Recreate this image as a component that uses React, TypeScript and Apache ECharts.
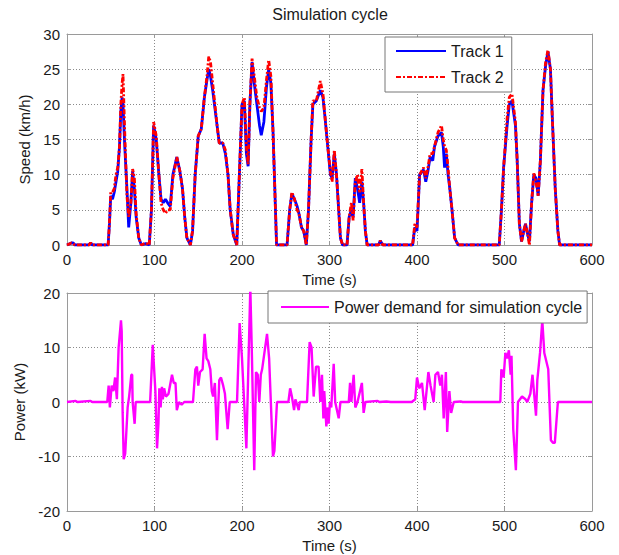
import React, { useEffect, useRef } from "react";
import * as echarts from "echarts";

const speedTime = [0, 5, 7, 9, 25, 27, 29, 47, 48.5, 50, 52, 54, 56, 58, 60, 61.5, 63, 64, 66, 68.5, 70.5, 73, 75, 77, 79, 82, 85, 90, 94, 96.5, 99, 102, 105, 107.5, 110, 112.5, 115, 118, 121, 125.5, 129, 132, 134.5, 137, 141, 143.5, 146.5, 150, 153.5, 157, 160, 162, 164, 166.5, 171.5, 174, 178, 181, 184, 186.5, 190, 194, 197, 200, 202.7, 205, 207, 209, 211.5, 214, 217, 220, 222, 225, 228, 230.5, 233, 235.5, 237.5, 239.5, 251.5, 254.5, 257, 260, 263, 265, 268, 270.5, 273.5, 276, 279, 281, 285, 289.5, 292.5, 295, 298, 301, 303, 305.5, 308, 310.5, 312.5, 315, 320, 322.5, 325, 327, 329.5, 332, 334.5, 337, 339, 341, 343, 356, 358, 361, 395, 397.5, 400, 403, 407.5, 410, 412.5, 415, 418, 420, 424, 428, 430, 431.5, 433.5, 435.5, 437.5, 440, 443, 447, 494, 496.5, 499, 503, 505.5, 508.5, 512.5, 514.5, 517, 519.5, 522, 524, 526.5, 528.5, 531, 533.5, 536, 538.5, 541, 544, 547, 549.7, 552.5, 555, 558, 561, 563, 600];

const track1Speed = [0, 0.3, 0.3, 0, 0, 0.3, 0, 0, 3, 7, 6.5, 7.5, 9, 10.5, 14, 19, 21, 20, 14, 8, 2.5, 6, 10.5, 8, 4, 1, 0, 0.2, 0, 5, 17, 15, 10, 6.5, 6, 6.5, 6, 5.5, 10, 12.5, 10.5, 8, 4, 1, 0, 2, 10, 15.5, 16.5, 21, 23.5, 25, 24, 22, 17, 14.5, 14.5, 13, 10, 5, 1.5, 0, 10, 20, 20.5, 13, 11.2, 20, 26, 23, 20, 17, 15.6, 17.5, 22.5, 25, 23, 16, 8, 0, 0, 5, 7.3, 6.5, 5.5, 4.5, 2.5, 2, 0, 5, 15, 20, 20.5, 22, 21, 18, 14, 10, 9.5, 13, 10, 5, 1, 0, 0, 4, 5, 4, 9.5, 8, 6, 9, 6, 2, 0, 0, 0.6, 0, 0, 2.5, 2, 10, 10.7, 9, 10.5, 12.5, 12, 14, 15.5, 16, 14, 11, 13, 10, 8, 5, 1, 0, 0, 5, 11, 17, 20, 20.5, 17, 12, 3, 0.5, 2, 3, 1.5, 0.5, 6, 10, 9.5, 7, 12, 22, 25.5, 27.5, 25, 17, 8, 2, 0, 0];

const track2Speed = [0, 0.3, 0.2, 0, 0, 0.3, 0, 0, 3, 7.5, 7.5, 8, 10, 11, 14, 20, 23, 24.3, 16, 7, 4, 6, 10.8, 9.5, 4.5, 1, 0, 0.3, 0, 5, 17.5, 15.5, 10, 6, 5, 4.5, 5, 5, 9.5, 12.5, 10.5, 8, 4, 1, 0, 2, 10, 15.5, 16.5, 21, 24, 26.8, 26, 23, 17, 14.5, 14.5, 13.5, 10, 5, 1.5, 0, 10, 20, 21, 14, 11.5, 20, 26.5, 24, 21, 19.5, 19, 19.5, 23.5, 26.3, 24, 16, 8, 0, 0, 5, 7.5, 6.5, 5, 4.5, 2.5, 2, 0, 5, 15, 20.5, 20.5, 23.3, 21.5, 18, 14, 10.5, 9, 13.5, 10, 5, 1, 0, 0, 4, 6, 3.5, 9, 10, 7.5, 10.8, 6, 2, 0, 0, 0.6, 0, 0, 3, 2.5, 10, 11, 9.5, 11, 13, 13, 14, 16, 17, 15, 14, 13.5, 11, 8, 5, 1, 0, 0, 5, 11, 18, 21, 21.5, 17.5, 12, 3, 0.5, 2, 3, 1.5, 0, 6, 10.2, 9, 7, 12, 22, 26, 27.7, 25, 17, 8, 2, 0, 0];

const powerTime = [0, 10, 12, 27, 29, 46, 47.6, 49, 51, 53, 55, 57, 59, 61.7, 62.5, 63.6, 64.8, 66.5, 69.3, 71, 73.5, 74.5, 75, 77.3, 78.5, 95, 98, 101, 102.9, 104.5, 105.5, 107, 108.5, 109.5, 111, 113, 116, 120, 122, 124, 125.5, 128, 131, 134, 144, 146.7, 148.5, 150, 152, 155, 157.3, 159.5, 161.5, 163.8, 165.5, 167, 169, 171.4, 174, 176, 178.5, 180.5, 183.6, 186, 194.3, 197.3, 200, 205, 209.5, 211.4, 214, 216, 218, 219.8, 221.5, 223, 228.6, 231, 235.4, 237, 240, 253, 255, 257, 259.5, 261, 263, 264.8, 266, 274.3, 277.3, 279.5, 281.9, 284.6, 287.5, 289.5, 291.4, 293, 294, 296.4, 298, 299, 300.5, 302, 304.8, 306.5, 310.5, 312.5, 322, 323.5, 325, 327.6, 329.5, 332, 337, 339, 341, 355, 357, 365, 370, 394, 398, 400, 402.5, 405.7, 408.8, 413, 415.5, 419, 421, 424, 426.6, 428.5, 430.5, 433, 434.5, 437, 439, 442, 450, 452, 495.2, 496.4, 499, 501, 503, 505, 507, 508, 510, 513, 515.4, 520, 524, 526, 529.5, 532, 536, 537.5, 540.6, 543.2, 545.5, 550, 553, 555.6, 557.5, 561, 600];

const powerDemand = [0, 0.2, 0, 0.2, 0, 0, 3, -1, 3, 2, 4.5, 0.5, 10, 15, 13, -2, -10.5, -9.5, -1, 1, 5, 5, 0, -4, 0, 0, 10.5, 2, -8.5, -4, 2.5, -1, 2.8, 0.5, 2.5, 1, 1.5, 5, 3.5, 3.5, -1.5, 0, -0.5, 0, 0, 6, 6.5, 3, 5.5, 6, 12.5, 8, 7.5, 6, 2, 1, 3.5, -7, 4, 4.5, 3, 1.5, -5, 0, 0, 14.5, 8, -8.5, 21, 8, -12.5, 5.5, 5, 0, 5, 6, 12.5, 8, -10, -9, 0, 0, 2.5, 1, -1.5, 0.5, -0.5, -1.5, 0, 0, 11, 10, 1, 6.5, 6.5, 0, 5, -3, 2, -4.5, -1, -4, 0, -1, 7, 0, -3, 0, 0, 3.5, 0, 5, -1, 0, 3.5, -2, 0, 0.2, 0, 0.1, 0, 0, 0.5, 4.5, 2.5, 3.5, -1.5, 5.5, 3, 0, 5, 5.5, 3, 5, -3, 5.5, -5.5, 2, -2, 0, 0.1, 0, 0, 6, 4.5, 9, 8, 9.5, 5, 8.5, -5, -12.5, 0, 1, 0.5, 0, 1.5, 5, -2.5, 4, 9, 15, 9, 6, -7, -7.5, -7.5, 0, 0];

const FONT = "'Liberation Sans', Arial, sans-serif";
const TXT = "#1a1a1a";
const FRAME = "#9a9a9a";

function xAxisCfg(gridIndex: number, pos: "bottom" | "top") {
  const isBottom = pos === "bottom";
  return {
    type: "value",
    gridIndex,
    position: pos,
    min: 0,
    max: 600,
    interval: 100,
    name: isBottom ? "Time (s)" : "",
    nameLocation: "middle",
    nameGap: 27,
    nameTextStyle: { color: TXT, fontSize: 15, fontFamily: FONT },
    axisLine: { show: true, onZero: false, lineStyle: { color: FRAME, width: 1 } },
    axisTick: { show: true, inside: true, length: 4, lineStyle: { color: FRAME } },
    axisLabel: { show: isBottom, color: TXT, fontSize: 15, fontFamily: FONT, margin: 7 },
    splitLine: { show: isBottom, lineStyle: { color: "#8a8a8a", type: [1, 2], width: 1 } },
  };
}

function yAxisCfg(gridIndex: number, pos: "left" | "right", min: number, max: number, interval: number, name: string, nameGap: number) {
  const isLeft = pos === "left";
  return {
    type: "value",
    gridIndex,
    position: pos,
    min,
    max,
    interval,
    name: isLeft ? name : "",
    nameLocation: "middle",
    nameGap,
    nameTextStyle: { color: TXT, fontSize: 15, fontFamily: FONT },
    axisLine: { show: true, onZero: false, lineStyle: { color: FRAME, width: 1 } },
    axisTick: { show: true, inside: true, length: 4, lineStyle: { color: FRAME } },
    axisLabel: { show: isLeft, color: TXT, fontSize: 15, fontFamily: FONT, margin: 7 },
    splitLine: { show: isLeft, lineStyle: { color: "#8a8a8a", type: [1, 2], width: 1 } },
  };
}

export default function App() {
  const ref = useRef<HTMLDivElement>(null);
  useEffect(() => {
    if (!ref.current) return;
    const chart = echarts.init(ref.current, null, { renderer: "svg" });
    const s1 = speedTime.map((t, i) => [t, track1Speed[i]]);
    const s2 = speedTime.map((t, i) => [t, track2Speed[i]]);
    const p = powerTime.map((t, i) => [t, powerDemand[i]]);
    chart.setOption({
      animation: false,
      backgroundColor: "#ffffff",
      textStyle: { fontFamily: FONT },
      graphic: [
        {
          type: "text",
          x: 330,
          y: 14,
          style: { text: "Simulation cycle", fontSize: 16, fontFamily: FONT, fill: TXT, textAlign: "center", textVerticalAlign: "middle" },
        },
      ],
      grid: [
        { left: 67, top: 34, width: 525, height: 211 },
        { left: 67, top: 293, width: 525, height: 218 },
      ],
      xAxis: [xAxisCfg(0, "bottom"), xAxisCfg(0, "top"), xAxisCfg(1, "bottom"), xAxisCfg(1, "top")],
      yAxis: [
        yAxisCfg(0, "left", 0, 30, 5, "Speed (km/h)", 33),
        yAxisCfg(0, "right", 0, 30, 5, "", 0),
        yAxisCfg(1, "left", -20, 20, 10, "Power (kW)", 38),
        yAxisCfg(1, "right", -20, 20, 10, "", 0),
      ],
      legend: [
        {
          data: ["Track 1", "Track 2"],
          orient: "vertical",
          left: 385,
          top: 37,
          itemWidth: 50,
          itemHeight: 14,
          itemGap: 10,
          padding: [6, 8, 7, 10],
          backgroundColor: "#ffffff",
          borderColor: "#777777",
          borderWidth: 1,
          borderRadius: 0,
          itemStyle: { opacity: 0 },
          textStyle: { color: TXT, fontSize: 16, fontFamily: FONT },
        },
        {
          data: ["Power demand for simulation cycle"],
          left: 268,
          top: 291,
          itemWidth: 48,
          itemHeight: 14,
          padding: [8, 5, 8, 12],
          backgroundColor: "#ffffff",
          borderColor: "#777777",
          borderWidth: 1,
          borderRadius: 0,
          itemStyle: { opacity: 0 },
          textStyle: { color: TXT, fontSize: 16, fontFamily: FONT },
        },
      ],
      series: [
        {
          name: "Track 1",
          type: "line",
          xAxisIndex: 0,
          yAxisIndex: 0,
          data: s1,
          symbol: "none",
          showSymbol: false,
          color: "#0000ff",
          lineStyle: { color: "#0000ff", width: 2.8 },
          z: 3,
        },
        {
          name: "Track 2",
          type: "line",
          xAxisIndex: 0,
          yAxisIndex: 0,
          data: s2,
          symbol: "none",
          showSymbol: false,
          color: "#ff0000",
          lineStyle: { color: "#ff0000", width: 2.8, type: [5, 2, 2, 2] },
          z: 4,
        },
        {
          name: "Power demand for simulation cycle",
          type: "line",
          xAxisIndex: 2,
          yAxisIndex: 2,
          data: p,
          symbol: "none",
          showSymbol: false,
          color: "#ff00ff",
          lineStyle: { color: "#ff00ff", width: 2.4 },
          clip: true,
          z: 3,
        },
      ],
    });
    return () => chart.dispose();
  }, []);
  return <div ref={ref} style={{ position: "fixed", left: 0, top: 0, width: 619, height: 555 }} />;
}
